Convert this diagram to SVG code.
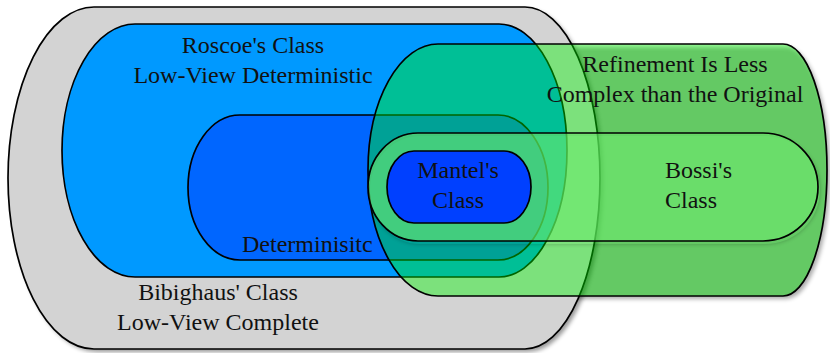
<svg xmlns="http://www.w3.org/2000/svg" width="830" height="353" viewBox="0 0 830 353">
<style>
  .lbl{font-family:"Liberation Serif","Times New Roman",serif;font-size:24px;fill:#111;}
  .mid{text-anchor:middle;}
  .edge{stroke:#000;stroke-width:1.7;}
  .shadow{fill:#000;filter:url(#blur);}
</style>
<defs>
  <filter id="blur" x="-5%" y="-10%" width="115%" height="125%">
    <feGaussianBlur stdDeviation="2"/>
  </filter>
  <mask id="outsideBossi" maskUnits="userSpaceOnUse" x="0" y="0" width="830" height="353">
    <rect width="830" height="353" fill="#fff"/>
    <path fill="#000" d="M418,133 H763 A55,54 0 0 1 763,241 H418 A50,54 0 0 1 418,133 Z"/>
  </mask>
</defs>
<rect width="830" height="353" fill="#fff"/>
<g id="shadows">
  <path class="shadow" opacity="0.4" transform="translate(3,3)" d="M94,7 H525 A75,171 0 0 1 525,349 H94 A86,171 0 0 1 94,7 Z"/>
  <path class="shadow" opacity="0.33" transform="translate(3,3)" d="M438,44 H783 A44,126 0 0 1 783,296 H438 A70,126 0 0 1 438,44 Z"/>
</g>
<g id="bibighaus">
  <path class="edge" fill="#d3d3d3" d="M94,7 H525 A75,171 0 0 1 525,349 H94 A86,171 0 0 1 94,7 Z"/>
  <text class="lbl mid" x="218" y="300">Bibighaus' Class</text>
  <text class="lbl mid" x="218" y="330">Low-View Complete</text>
</g>
<g id="roscoe">
  <path class="edge" fill="#0099ff" d="M135,24 H499 A68,126.5 0 0 1 499,277 H135 A73,126.5 0 0 1 135,24 Z"/>
  <text class="lbl mid" x="253" y="53">Roscoe's Class</text>
  <text class="lbl mid" x="253" y="83">Low-View Deterministic</text>
</g>
<g id="deterministic">
  <path class="edge" fill="#0066ff" d="M240,115 H498 A50,72.5 0 0 1 498,260 H240 A52,72.5 0 0 1 240,115 Z"/>
  <text class="lbl" x="242" y="252">Determinisitc</text>
</g>
<g id="refinement">
  <path class="edge" fill="rgb(0,245,0)" fill-opacity="0.41" d="M438,44 H783 A44,126 0 0 1 783,296 H438 A70,126 0 0 1 438,44 Z"/>
  <text class="lbl mid" x="675" y="72">Refinement Is Less</text>
  <text class="lbl mid" x="675" y="102">Complex than the Original</text>
</g>
<g id="bossi">
  <path class="shadow" opacity="0.25" transform="translate(2,3)" mask="url(#outsideBossi)" d="M418,133 H763 A55,54 0 0 1 763,241 H418 A50,54 0 0 1 418,133 Z"/>
  <path class="edge" fill="rgb(110,235,110)" fill-opacity="0.6" d="M418,133 H763 A55,54 0 0 1 763,241 H418 A50,54 0 0 1 418,133 Z"/>
  <text class="lbl" x="665" y="178">Bossi's</text>
  <text class="lbl" x="665" y="208">Class</text>
</g>
<g id="mantel">
  <path class="edge" fill="#0040ff" d="M414,151 H504 A27,36 0 0 1 504,223 H414 A27,36 0 0 1 414,151 Z"/>
  <text class="lbl mid" x="458" y="178">Mantel's</text>
  <text class="lbl mid" x="458" y="208">Class</text>
</g>
<g id="connectors"/>
</svg>
